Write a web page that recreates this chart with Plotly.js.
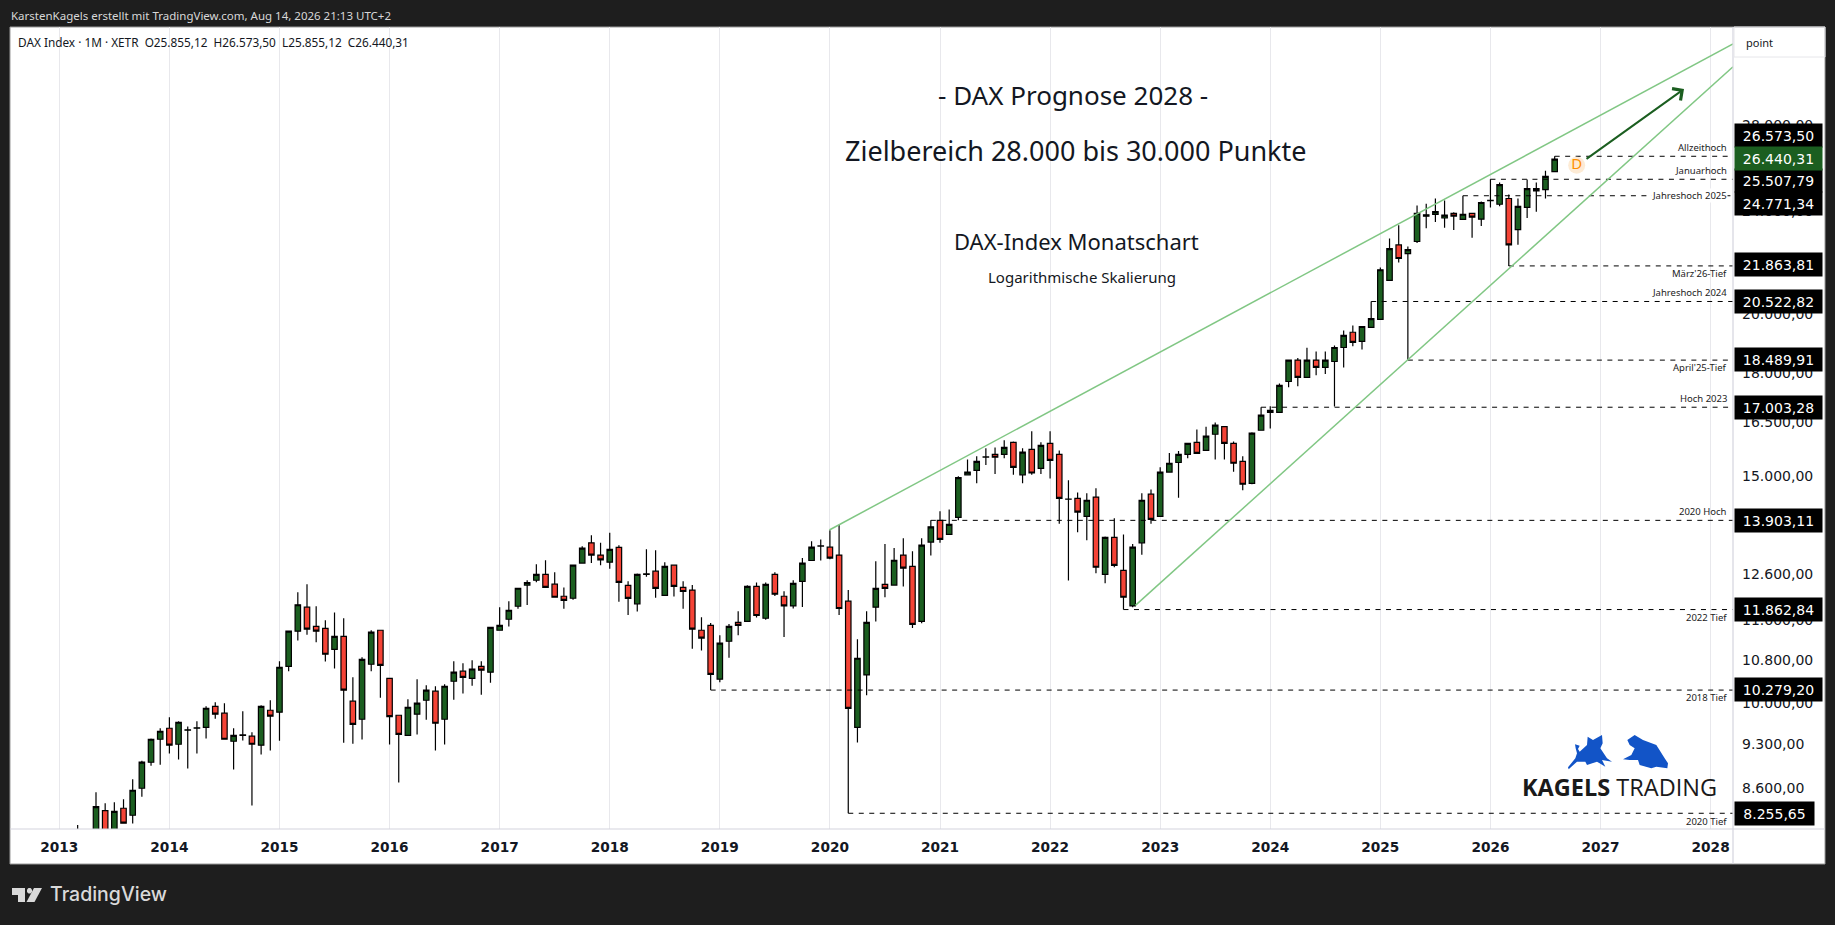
<!DOCTYPE html>
<html><head><meta charset="utf-8">
<script src="https://cdn.plot.ly/plotly-3.0.1.min.js"></script>
<style>html,body{margin:0;padding:0;background:#1e1e1e;overflow:hidden}#c{width:1835px;height:925px}</style>
</head><body><div id="c"></div>
<script>
// Monthly DAX candles, first bar = March 2013 (bar number counted from January 2013)
const firstBar = 2;
const open = [7740,7795,7914,8295,7959,8330,8227,8632,9040,9418,9604,9335,9570,9604,9619,9987,9865,9385,9484,9469,9319,9917,9882,10722,11414,11913,11512,11474,11052,11310,10078,9759,10763,11434,10497,9829,9484,9847,10095,10259,9759,10442,10630,10497,10722,10612,11434,11660,11933,12390,12498,12631,12410,12147,12104,12885,13358,13070,12905,13250,12385,11985,12631,12700,12165,12838,12340,12280,11434,11535,10480,11212,11595,11615,12362,11680,12630,12147,11940,12473,12945,13280,13255,13070,12040,9620,10560,11913,12407,12390,13070,12810,11615,13375,13905,13560,13975,15075,15195,15560,15635,15635,15970,15075,15775,15250,15945,15635,14435,14460,14000,14490,12630,13490,12720,11940,13358,14565,14000,15150,15410,15635,15975,15745,16205,16425,15945,15440,14850,16320,16850,16850,17800,18490,17930,18490,18250,18445,18910,19430,19115,19600,19880,21305,22695,22345,22835,23885,23960,23810,24010,23750,24010,23760,24555,24400,24650,23320,24260,25090,25040,25855.12];
const high = [8087,7940,8571,8404,8420,8465,8772,9066,9429,9604,9794,9724,9636,9724,9987,10059,10042,9604,9899,9536,10004,10095,10820,11414,12235,12410,11933,11640,11800,11680,10516,10897,11434,11434,10497,9829,10112,10480,10367,10349,10385,10820,10783,10839,10820,11493,11913,12039,12321,12500,12860,12950,12676,12340,12838,13277,13540,13358,13600,13300,12473,12650,13205,13185,12905,12838,12473,12395,11700,11580,11335,11560,11825,12385,12448,12448,12675,12255,12495,13000,13395,13440,13660,13795,12280,11250,11825,12925,13330,13235,13470,13160,13470,13903.11,14130,14175,15035,15495,15580,15805,15830,16030,16000,15805,16290,15975,16290,15745,14930,14610,14590,14720,13510,13955,13560,13330,14590,14690,15280,15675,15730,15945,16345,16425,16550,16425,16000,15580,16265,17003.28,17030,17740,18490,18560,18900,18775,18775,18980,19490,19665,19630,20522.82,21800,22955,23500,22630,24345,24420,24650,24560,24050,24771.34,24010,24520,25507.79,25360,24830,24650,25500,25360,25900,26573.5];
const low = [7580,7420,7880,7655,7890,8105,8106,8504,8985,9002,9181,9083,8939,9181,9429,9769,9418,8923,9399,8369,9166,9230,9395,10630,11225,11345,11190,10815,10680,9361,9344,9412,10630,10142,9329,8720,9484,9500,9752,9230,9329,10105,10215,10360,10196,10415,11434,11510,11880,11957,12455,12340,12125,11880,12073,12885,12885,12838,12757,12030,11750,11820,12578,12115,12165,12140,11880,11065,11030,10279.2,10425,10890,11335,11615,11697,11650,12150,11295,11885,11915,12945,12945,12975,11750,8255.65,9365,10185,11615,12125,12390,12360,11480,11575,13060,13358,13560,13905,15075,14850,15340,15100,15525,15075,14850,15075,15100,14975,13820,12490,13610,13420,12655,12430,12790,11862.84,11913,13075,13820,14000,15150,14475,15525,15665,15745,15495,15495,15160,14670,14825,16320,16375,16850,17615,17650,17930,18000,18040,17024,18250,18950,18845,19600,19865,21305,22000,18489.91,22775,23380,23640,23395,23310,23750,22985,23470,24260,24310,21863.81,22700,23810,24080,24650,25855.12];
const close = [7795,7914,8354,7959,8285,8111,8601,9041,9418,9553,9319,9707,9578,9612,9952,9847,9418,9484,9490,9335,9987,9812,10705,11414,11965,11455,11414,10956,11310,10277,9670,10858,11394,10742,9805,9500,9970,10042,10277,9690,10349,10612,10516,10672,10650,11493,11532,11848,12321,12448,12631,12340,12125,12060,12838,13232,13070,12960,13205,12450,12100,12631,12640,12320,12810,12360,12250,11455,11275,10570,11175,11512,11535,12362,11738,12407,12190,11940,12430,12885,13255,13285,13000,11885,9950,10878,11595,12320,12320,12950,12770,11555,13305,13745,13440,13805,15000,15150,15440,15565,15555,15830,15280,15695,15125,15890,15470,14460,14440,14110,14410,12790,13490,12835,12125,13255,14410,13925,15150,15390,15635,15945,15665,16150,16470,15945,15390,14825,16235,16765,16910,17675,18490,17930,18490,18250,18490,18910,19320,19085,19630,19910,21715,22550,22155,22510,24010,23945,24085,23935,23890,23970,23845,24475,24565,25270,22695,24310,25090,24990,25640,26440.31];

const yearLabels = [2013,2014,2015,2016,2017,2018,2019,2020,2021,2022,2023,2024,2025,2026,2027,2028];
const priceTicks = [8600,9300,10000,10800,11600,12600,15000,16500,18000,20000,24000,28000];

// Horizontal levels: price, bar where the line starts, note
const levelValues = [26573.50,25507.79,24771.34,21863.81,20522.82,18489.91,17003.28,13903.11,11862.84,10279.20,8255.65];
const levelStartBars = [163,156,153,158,143,147,131,95,116,71,86];
const levelNotes = ["Allzeithoch","Januarhoch","Jahreshoch 2025","März'26-Tief","Jahreshoch 2024","April'25-Tief","Hoch 2023","2020 Hoch","2022 Tief","2018 Tief","2020 Tief"];
const lastClose = 26440.31;

// Trend channel, bar and price of both ends
const upperTrendBars = [83.94,182.44];
const upperTrendPrices = [13667,32451];
const lowerTrendBars = [117.3,182.44];
const lowerTrendPrices = [11952,31165];

const de = (v,d)=>v.toLocaleString('de-DE',{minimumFractionDigits:d,maximumFractionDigits:d});

// frame helpers (layout only)
const L=10,R=1733,T=27,B=829;
const px=x=>(x-L)/(R-L), py=y=>(B-y)/(B-T);
const poly=(pts,ox,oy,s)=>'M'+pts.map(p=>px(ox+p[0]*s)+','+py(oy+p[1]*s)).join(' L')+' Z';

const bars = open.map((_,i)=>i+firstBar);
const FONT='"DejaVu Sans"', HEAD='"Noto Sans"';

const traces=[];
levelValues.forEach((v,i)=>traces.push({type:'scatter',mode:'lines',x:[levelStartBars[i],182.44],y:[v,v],
  line:{color:'#000',width:1,dash:'5px,5.5px'},hoverinfo:'skip',showlegend:false}));
traces.push({type:'scatter',mode:'lines',x:upperTrendBars,y:upperTrendPrices,line:{color:'#81c784',width:1.5},hoverinfo:'skip',showlegend:false});
traces.push({type:'scatter',mode:'lines',x:lowerTrendBars,y:lowerTrendPrices,line:{color:'#81c784',width:1.5},hoverinfo:'skip',showlegend:false});
traces.push({type:'candlestick',x:bars,open,high,low,close,whiskerwidth:0,
  increasing:{line:{color:'#000',width:1.2},fillcolor:'#1b5e20'},
  decreasing:{line:{color:'#000',width:1.2},fillcolor:'#f44336'},hoverinfo:'skip',showlegend:false});
traces.push({type:'scatter',mode:'markers+text',x:[165.4],y:[26150],text:['D'],textposition:'middle center',
  marker:{size:17,color:'#fdebd5'},textfont:{family:HEAD,size:15,color:'#ff9000'},hoverinfo:'skip',showlegend:false});

const ann=[];
const txt=(x,y,text,size,color,anchor,family,bg)=>ann.push({xref:'paper',yref:'paper',x:px(x),y:py(y),text,showarrow:false,
  xanchor:anchor||'left',yanchor:'middle',font:{family:family||HEAD,size,color},borderpad:0,bgcolor:bg||'rgba(0,0,0,0)'});

txt(10,15,'KarstenKagels erstellt mit TradingView.com, Aug 14, 2026 21:13 UTC+2',11.5,'#d8d8d8');
txt(17,41.5,'DAX Index · 1M · XETR  O25.855,12  H26.573,50  L25.855,12  C26.440,31'.replace(/  /g,'&nbsp;&nbsp;'),11.8,'#131722');
txt(1745,43,'point',11,'#131722');
txt(1073,95,'- DAX Prognose 2028 -',26,'#131722','center');
txt(1075,150.5,'Zielbereich 28.000 bis 30.000 Punkte',27,'#131722','center');
txt(1076,241,'DAX-Index Monatschart',22,'#131722','center');
txt(1082,277,'Logarithmische Skalierung',15,'#131722','center');

const noteY=[147.7,170.7,195.3,273.3,292.7,367.3,398.7,511.7,617.7,697.3,821.3];
levelNotes.forEach((t,i)=>txt(1727.5,noteY[i],t,9.5,'#222','right',HEAD,t==='Jahreshoch 2025'?'#fff':null));

const tagY=[135.7,180.7,204,265,301,359.3,407.3,520,609.3,689.3,813.3];
const tag=(y,val,bg,w)=>ann.push({xref:'paper',yref:'paper',x:px(1734),y:py(y),xanchor:'left',yanchor:'middle',text:de(val,2),
  showarrow:false,width:w,height:23,align:'center',valign:'middle',bgcolor:bg,borderpad:0,font:{family:FONT,size:14,color:'#fff'}});
levelValues.forEach((v,i)=>tag(tagY[i],v,'#000',v<10000?79:87));
tag(158.3,lastClose,'#1b5e20',87);

// target arrow
ann.push({x:177.1,y:Math.log10(29954),xref:'x',yref:'y',ax:-99,ay:71,axref:'pixel',ayref:'pixel',showarrow:true,
  arrowcolor:'#1b5e20',arrowwidth:2,arrowhead:4,arrowsize:1.4,text:''});

// Kagels logo & TradingView wordmark
ann.push({xref:'paper',yref:'paper',x:px(1619),y:py(787),xanchor:'center',yanchor:'middle',showarrow:false,
  text:'<b>KAGELS</b> TRADING',font:{family:'"Open Sans"',size:23.5,color:'#1a1a1a'}});
ann.push({xref:'paper',yref:'paper',x:px(49),y:py(894),xanchor:'left',yanchor:'middle',showarrow:false,borderpad:0,
  text:'TradingView',font:{family:'Inter',size:19.5,color:'#d9d9d9',weight:500}});

const shapes=[
 {type:'rect',xref:'paper',yref:'paper',x0:0,x1:px(1825),y0:py(864),y1:1,fillcolor:'#fff',line:{color:'#9a9a9a',width:1},layer:'below'},
 {type:'line',xref:'paper',yref:'paper',x0:0,x1:px(1825),y0:0,y1:0,line:{color:'#d4d4de',width:1.2}},
 {type:'line',xref:'paper',yref:'paper',x0:1,x1:1,y0:py(864),y1:1,line:{color:'#d4d4de',width:1.2}},
 {type:'rect',xref:'paper',yref:'paper',x0:px(1734),x1:px(1825),y0:py(57),y1:1,line:{color:'#e6e6ea',width:1},fillcolor:'rgba(0,0,0,0)'},
 // TradingView mark
 {type:'path',xref:'paper',yref:'paper',path:poly([[0,0],[13,0],[13,14],[6,14],[6,7],[0,7]],12,888,1),fillcolor:'#d9d9d9',line:{width:0}},
 {type:'path',xref:'paper',yref:'paper',path:poly([[15,1.5],[16.5,0],[18.5,0],[20,1.5],[20,4],[18.5,5.5],[16.5,5.5],[15,4]],12,888,1),fillcolor:'#d9d9d9',line:{width:0}},
 {type:'path',xref:'paper',yref:'paper',path:poly([[22,0],[30,0],[22.5,14],[14.5,14]],12,888,1),fillcolor:'#d9d9d9',line:{width:0}},
 // bull & bear
 {type:'path',xref:'paper',yref:'paper',fillcolor:'#1254c7',line:{width:0},
  path:poly([[25,70],[30,55],[26,40],[24,28],[38,32],[33,42],[38,50],[60,30],[62,5],[78,15],[105,0],[107,25],[100,40],[120,70],[135,80],[105,75],[115,95],[90,80],[60,90],[55,80],[30,80],[5,103],[3,97]],1567,735,1/3)},
 {type:'path',xref:'paper',yref:'paper',fillcolor:'#1254c7',line:{width:0},
  path:poly([[13,15],[35,0],[60,15],[100,30],[125,70],[135,85],[133,100],[100,95],[85,100],[50,90],[45,75],[20,75],[0,73],[25,60],[35,40],[20,30]],1623,735,1/3)}
];

Plotly.newPlot('c',traces,{
  width:1835,height:925,margin:{l:L,r:1835-R,t:T,b:925-B,pad:0},
  paper_bgcolor:'#1e1e1e',plot_bgcolor:'#fff',showlegend:false,boxmode:'overlay',boxgap:0.15,
  xaxis:{type:'linear',range:[-5.374,182.44],rangeslider:{visible:false},tickmode:'array',
    tickvals:yearLabels.map((_,i)=>i*12),ticktext:yearLabels.map(String),showgrid:true,gridcolor:'#e8e8ec',gridwidth:1,
    zeroline:false,showline:false,ticks:'',ticklabelstandoff:8,tickfont:{family:FONT,size:13.7,color:'#131722',weight:'bold'}},
  yaxis:{type:'log',side:'right',range:[Math.log10(8028),Math.log10(33446)],tickmode:'array',
    tickvals:priceTicks,ticktext:priceTicks.map(v=>de(v,2)),showgrid:false,zeroline:false,showline:false,ticks:'',
    ticklabelstandoff:8,ticklabelshift:-2,tickfont:{family:FONT,size:14,color:'#131722'}},
  annotations:ann,shapes
},{staticPlot:true,displayModeBar:false});
</script></body></html>
